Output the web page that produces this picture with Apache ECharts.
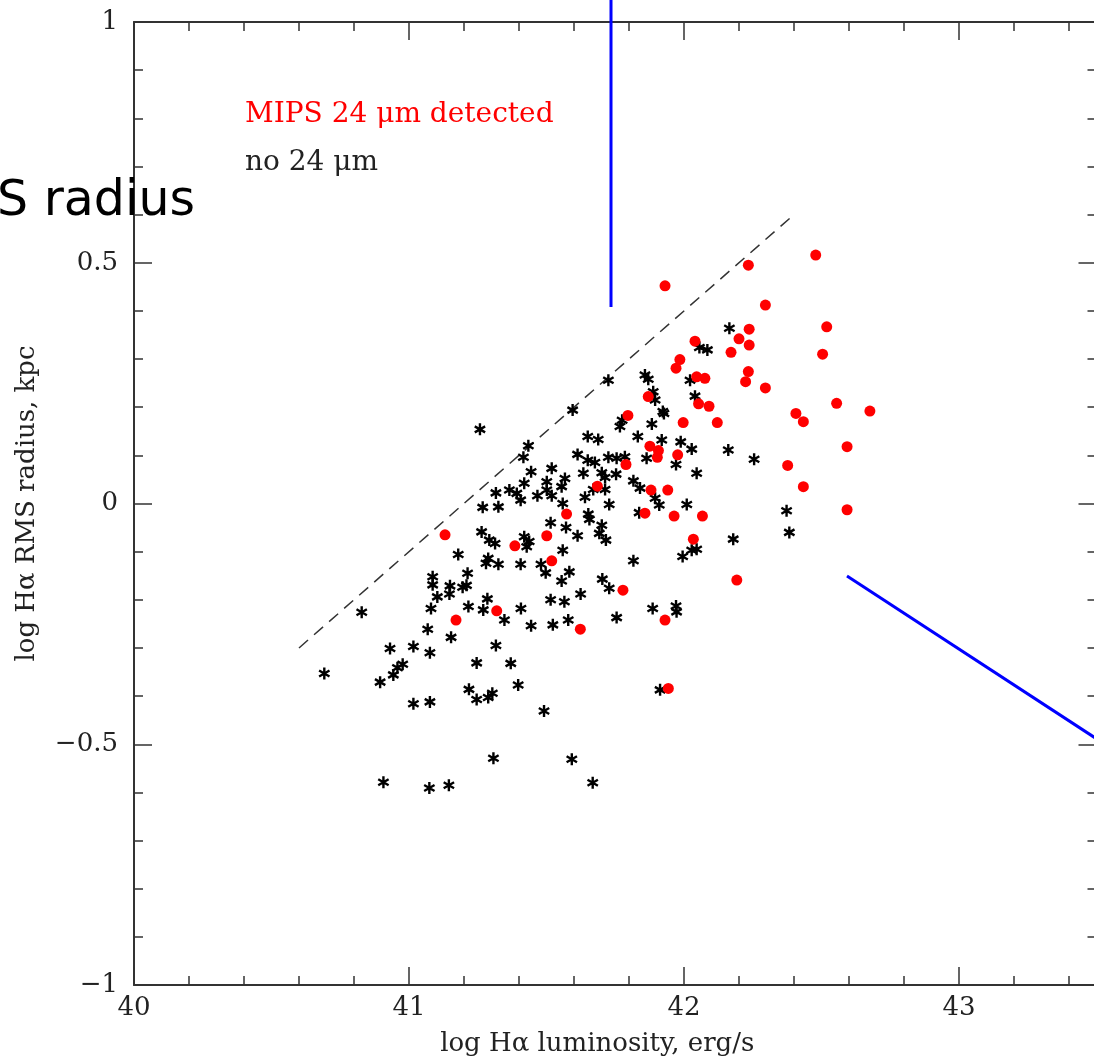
<!DOCTYPE html>
<html>
<head>
<meta charset="utf-8">
<script src="https://cdn.jsdelivr.net/npm/echarts@6/dist/echarts.min.js"></script>
<style>
html,body{margin:0;padding:0;background:#fff;overflow:hidden}
#chart{width:1094px;height:1062px}
</style>
</head>
<body>
<div id="chart"></div>
<script>
// ---- data ----
const noDetX = [41.595,41.258,41.434,41.416,41.613,41.444,41.519,41.419,41.501,41.567,
41.555,41.501,41.316,41.365,41.392,41.406,41.467,41.519,41.268,41.325,
41.559,41.264,41.292,41.313,41.419,41.437,41.428,41.515,41.571,41.613,
41.179,41.559,41.288,41.280,41.325,41.406,41.480,41.497,41.583,41.555,
41.086,41.086,41.213,41.149,41.195,41.209,
41.147,41.103,41.624,41.515,41.565,41.285,41.216,41.270,41.080,41.407,
40.828,41.347,41.444,41.523,41.579,41.068,41.153,41.316,40.931,41.016,
41.076,40.977,40.958,40.943,40.895,40.692,41.246,41.370,41.397,41.218,
41.246,41.288,41.303,41.016,41.076,41.491,41.307,41.592,40.907,41.074,
41.145,41.668,42.165,42.056,42.085,41.858,41.870,42.022,41.725,41.888,
41.895,42.040,41.923,41.927,41.775,41.767,41.883,41.650,41.688,41.832,
41.919,41.988,42.028,42.161,42.255,41.650,41.676,41.725,41.755,41.785,
41.864,41.971,41.634,41.701,41.713,41.753,42.046,41.670,41.713,41.816,
41.840,41.640,41.895,41.910,41.728,42.010,41.652,41.656,41.701,41.692,
41.716,41.837,42.373,42.383,42.179,42.046,42.028,41.995,41.816,41.703,
41.728,41.755,41.886,41.971,41.973,41.913];
const noDetY = [0.194,0.154,0.120,0.096,0.102,0.066,0.073,0.042,0.045,0.052,
0.035,0.028,0.022,0.028,0.021,0.007,0.016,0.016,-0.008,-0.007,
0.000,-0.059,-0.076,-0.083,-0.069,-0.079,-0.090,-0.040,-0.050,-0.067,
-0.106,-0.097,-0.114,-0.124,-0.126,-0.126,-0.126,-0.144,-0.142,-0.161,
-0.152,-0.169,-0.145,-0.171,-0.174,-0.170,
-0.188,-0.194,-0.188,-0.200,-0.204,-0.198,-0.214,-0.221,-0.218,-0.218,
-0.226,-0.242,-0.254,-0.252,-0.242,-0.261,-0.278,-0.295,-0.301,-0.297,
-0.310,-0.334,-0.341,-0.356,-0.371,-0.353,-0.331,-0.332,-0.377,-0.386,
-0.407,-0.403,-0.394,-0.416,-0.412,-0.431,-0.529,-0.531,-0.579,-0.591,
-0.585,-0.580,0.364,0.324,0.319,0.267,0.258,0.256,0.256,0.232,
0.215,0.223,0.191,0.187,0.173,0.160,0.165,0.139,0.133,0.139,
0.132,0.128,0.113,0.111,0.092,0.090,0.085,0.096,0.094,0.097,
0.094,0.081,0.063,0.064,0.054,0.061,0.063,0.029,0.029,0.047,
0.032,0.013,0.011,-0.003,-0.002,-0.002,-0.022,-0.033,-0.045,-0.062,
-0.076,-0.019,-0.015,-0.060,-0.074,-0.095,-0.097,-0.110,-0.119,-0.157,
-0.176,-0.237,-0.218,-0.213,-0.225,-0.387];
const detX = [42.479,42.234,41.931,42.296,42.519,42.237,42.200,42.237,42.171,42.504,
42.040,41.985,41.971,42.046,42.076,42.234,42.224,42.296,41.870,42.053,
42.091,42.555,42.676,41.796,41.997,42.121,42.407,42.434,41.876,41.907,
41.903,41.977,41.789,42.593,42.377,42.434,42.593,41.685,41.880,41.941,
41.573,41.858,41.964,42.067,41.501,42.034,41.519,42.192,41.778,41.931,
41.623,41.943,41.131,41.385,41.319,41.171];
const detY = [0.516,0.495,0.452,0.412,0.367,0.362,0.342,0.329,0.314,0.310,
0.337,0.299,0.281,0.263,0.260,0.274,0.253,0.240,0.222,0.207,
0.202,0.208,0.192,0.183,0.168,0.168,0.187,0.170,0.119,0.110,
0.096,0.101,0.081,0.118,0.079,0.035,-0.013,0.036,0.028,0.028,
-0.022,-0.020,-0.026,-0.026,-0.067,-0.074,-0.119,-0.159,-0.180,-0.242,
-0.261,-0.384,-0.065,-0.088,-0.223,-0.242];
const limitX = [40.6, 42.4];
const limitY = [-0.3, 0.6];
const xTickValues = [40, 41, 42, 43];
const yTickValues = [-1, -0.5, 0, 0.5, 1];
const xTitle = 'log H\u03b1 luminosity, erg/s';
const yTitle = 'log H\u03b1 RMS radius, kpc';
const detLabel = 'MIPS 24 \u03bcm detected';
const noDetLabel = 'no 24 \u03bcm';
const cropLabel = 'S radius';

// ---- helpers ----
const zip = (a, b) => a.map((v, i) => [v, b[i]]);
const near = (v, list) => list.some(t => Math.abs(t - v) < 1e-6);
const fmtX = v => near(v, xTickValues) ? String(Math.round(v)) : '';
const fmtY = v => {
  if (!near(v, yTickValues)) return '';
  const r = Math.round(v * 10) / 10;
  if (r === 0) return '0';
  return (r < 0 ? '\u2212' : '') + String(Math.abs(r));
};
const AX = '#333';
const TXT = '#222';
const FONT = 'DejaVu Serif';
const starPath = 'path://M5,0L5,10M0.67,2.5L9.33,7.5M0.67,7.5L9.33,2.5';
const tickStyle = {color: AX, width: 1.5};

const baseX = {type: 'value', min: 40, max: 43.5, splitLine: {show: false}};
const xLine = {show: true, onZero: false, lineStyle: {color: AX, width: 2}};
const xNoLine = {show: false, onZero: false};
const baseY = {
  type: 'value', min: -1, max: 1, interval: 0.5, splitLine: {show: false},
  axisLine: {show: true, onZero: false, lineStyle: {color: AX, width: 2}},
  axisTick: {show: true, inside: true, length: 18, lineStyle: tickStyle},
  minorTick: {show: true, splitNumber: 5, length: 9, lineStyle: tickStyle},
  minorSplitLine: {show: false}
};

const chart = echarts.init(document.getElementById('chart'), null, {renderer: 'canvas'});
chart.setOption({
  animation: false,
  backgroundColor: '#fff',
  grid: {left: 134, top: 22, width: 962.5, height: 963, containLabel: false, outerBoundsMode: 'none'},
  xAxis: [
    Object.assign({}, baseX, {
      position: 'bottom', interval: 1, axisLine: xLine,
      axisTick: {show: true, inside: true, length: 18, lineStyle: tickStyle},
      axisLabel: {show: true, margin: 10, formatter: fmtX, color: TXT, fontFamily: FONT, fontSize: 26},
      name: xTitle, nameLocation: 'middle', nameGap: 46,
      nameTextStyle: {color: TXT, fontFamily: FONT, fontSize: 26, padding: [0, 36, 0, 0]}
    }),
    Object.assign({}, baseX, {
      position: 'bottom', interval: 0.2, axisLine: xNoLine,
      axisTick: {show: true, inside: true, length: 9, lineStyle: tickStyle},
      axisLabel: {show: false}
    }),
    Object.assign({}, baseX, {
      position: 'top', interval: 1, axisLine: xLine,
      axisTick: {show: true, inside: true, length: 18, lineStyle: tickStyle},
      axisLabel: {show: false}
    }),
    Object.assign({}, baseX, {
      position: 'top', interval: 0.2, axisLine: xNoLine,
      axisTick: {show: true, inside: true, length: 9, lineStyle: tickStyle},
      axisLabel: {show: false}
    })
  ],
  yAxis: [
    Object.assign({}, baseY, {
      position: 'left',
      axisLabel: {show: true, margin: 16, formatter: fmtY, color: TXT, fontFamily: FONT, fontSize: 26},
      name: yTitle, nameLocation: 'middle', nameGap: 94,
      nameTextStyle: {color: TXT, fontFamily: FONT, fontSize: 26}
    }),
    Object.assign({}, baseY, {position: 'right', axisLabel: {show: false}})
  ],
  series: [
    {
      name: 'limit', type: 'line', xAxisIndex: 0, yAxisIndex: 0,
      data: zip(limitX, limitY), showSymbol: false, silent: true,
      lineStyle: {color: '#333', width: 1.5, type: [12, 8]}, z: 2
    },
    {
      name: noDetLabel, type: 'scatter', xAxisIndex: 0, yAxisIndex: 0,
      data: zip(noDetX, noDetY), symbol: starPath, symbolSize: 12, symbolKeepAspect: true,
      itemStyle: {color: '#000', borderColor: '#000', borderWidth: 2.4, opacity: 1}, z: 3
    },
    {
      name: detLabel, type: 'scatter', xAxisIndex: 0, yAxisIndex: 0,
      data: zip(detX, detY), symbol: 'circle', symbolSize: 11,
      itemStyle: {color: '#ff0000', opacity: 1}, z: 4
    }
  ],
  graphic: [
    {type: 'text', left: 245, top: 101, z: 50,
     style: {text: detLabel, fill: '#ff0000', font: '28px "DejaVu Serif"'}},
    {type: 'text', left: 245, top: 149, z: 50,
     style: {text: noDetLabel, fill: TXT, font: '28px "DejaVu Serif"'}},
    {type: 'text', left: -3, top: 178, z: 50,
     style: {text: cropLabel, fill: '#000', font: '49px "DejaVu Sans"'}},
    {type: 'line', z: 60, shape: {x1: 611, y1: 0, x2: 611, y2: 307},
     style: {stroke: '#0000ff', lineWidth: 3}},
    {type: 'line', z: 60, shape: {x1: 847, y1: 576, x2: 1100, y2: 741},
     style: {stroke: '#0000ff', lineWidth: 3}}
  ]
});
</script>
</body>
</html>
